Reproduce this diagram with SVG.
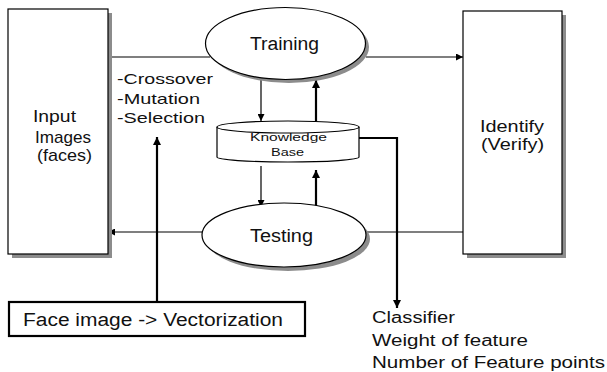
<svg xmlns="http://www.w3.org/2000/svg" width="607" height="372" viewBox="0 0 607 372">
  <defs>
    <marker id="ah" viewBox="0 0 8 8" refX="8" refY="4" markerWidth="7" markerHeight="7" markerUnits="userSpaceOnUse" orient="auto">
      <path d="M0,0 L8,4 L0,8 Z" fill="#000"/>
    </marker>
    <marker id="ahb" viewBox="0 0 8 8" refX="8" refY="4" markerWidth="8" markerHeight="8" markerUnits="userSpaceOnUse" orient="auto">
      <path d="M0,0 L8,4 L0,8 Z" fill="#000"/>
    </marker>
  </defs>
  <style>
    text { font-family: "Liberation Sans", Arial, sans-serif; fill: #111; }
    .big { font-size: 18px; }
    .lbl { font-size: 17px; }
    .pair { font-size: 16px; }
    .mid { font-size: 16px; }
    .sm { font-size: 15px; }
    .tiny { font-size: 10.5px; }
    .shadow { fill: #8c8c8c; stroke: none; }
    .node { fill: #fff; stroke: #000; stroke-width: 1.2; }
    .thin { stroke: #000; stroke-width: 1.2; fill: none; }
    .thick { stroke: #000; stroke-width: 2.2; fill: none; }
  </style>
  <rect width="607" height="372" fill="#fff"/>

  <!-- connectors -->
  <g id="connectors">
    <line class="thin" x1="108" y1="57" x2="210" y2="57"/>
    <line class="thin" x1="366" y1="57" x2="463" y2="57" marker-end="url(#ah)"/>
    <line class="thin" x1="261" y1="80" x2="261" y2="121" marker-end="url(#ah)"/>
    <line class="thick" x1="316" y1="121" x2="316" y2="80" marker-end="url(#ahb)"/>
    <line class="thin" x1="261" y1="166" x2="261" y2="207" marker-end="url(#ah)"/>
    <line class="thick" x1="316" y1="207" x2="316" y2="170" marker-end="url(#ahb)"/>
    <line class="thin" x1="202" y1="232" x2="108" y2="232" marker-end="url(#ah)"/>
    <line class="thin" x1="366" y1="232" x2="463" y2="232"/>
    <polyline class="thick" points="359,138 397,138 397,308" marker-end="url(#ahb)"/>
    <line class="thick" x1="157" y1="302" x2="157" y2="137" marker-end="url(#ahb)"/>
  </g>

  <!-- input images -->
  <g id="input">
    <rect class="shadow" x="12" y="13" width="100" height="245"/>
    <rect class="node" x="8" y="9" width="100" height="245"/>
    <text class="lbl" x="33" y="122" textLength="43" lengthAdjust="spacingAndGlyphs">Input</text>
    <text class="lbl" x="35" y="143" textLength="56" lengthAdjust="spacingAndGlyphs">Images</text>
    <text class="lbl" x="37" y="161" textLength="55" lengthAdjust="spacingAndGlyphs">(faces)</text>
  </g>

  <!-- identify -->
  <g id="identify">
    <rect class="shadow" x="467" y="15" width="99" height="243"/>
    <rect class="node" x="463" y="11" width="99" height="243"/>
    <text class="pair" x="480" y="132" textLength="64" lengthAdjust="spacingAndGlyphs">Identify</text>
    <text class="pair" x="481" y="150" textLength="63" lengthAdjust="spacingAndGlyphs">(Verify)</text>
  </g>

  <!-- training -->
  <g id="training">
    <ellipse class="shadow" cx="289" cy="47" rx="80" ry="36"/>
    <ellipse class="node" cx="285.5" cy="43.5" rx="80" ry="36"/>
    <text class="big" x="250" y="50" textLength="69" lengthAdjust="spacingAndGlyphs">Training</text>
  </g>

  <!-- operators -->
  <g id="operators">
    <text class="sm" x="117" y="84" textLength="96" lengthAdjust="spacingAndGlyphs">-Crossover</text>
    <text class="sm" x="117" y="104" textLength="83" lengthAdjust="spacingAndGlyphs">-Mutation</text>
    <text class="sm" x="117" y="123" textLength="88" lengthAdjust="spacingAndGlyphs">-Selection</text>
  </g>

  <!-- knowledge base -->
  <g id="knowledge">
    <path class="node" d="M217,127 L217,157 A71,5 0 0 0 359,157 L359,127"/>
    <ellipse class="node" cx="288" cy="127" rx="71" ry="6"/>
    <text class="tiny" x="250" y="141" textLength="77" lengthAdjust="spacingAndGlyphs">Knowledge</text>
    <text class="tiny" x="271" y="156" textLength="33" lengthAdjust="spacingAndGlyphs">Base</text>
  </g>

  <!-- testing -->
  <g id="testing">
    <ellipse class="shadow" cx="288" cy="239" rx="82" ry="32"/>
    <ellipse class="node" cx="284" cy="235" rx="82" ry="32"/>
    <text class="big" x="250" y="242" textLength="63" lengthAdjust="spacingAndGlyphs">Testing</text>
  </g>

  <!-- vectorization -->
  <g id="vectorization">
    <rect x="9" y="302" width="296" height="34" fill="#fff" stroke="#000" stroke-width="2.2"/>
    <text class="big" x="23" y="326" textLength="260" lengthAdjust="spacingAndGlyphs">Face image -&gt; Vectorization</text>
  </g>

  <!-- outputs -->
  <g id="outputs">
    <text class="mid" x="372" y="323" textLength="83" lengthAdjust="spacingAndGlyphs">Classifier</text>
    <text class="mid" x="372" y="346" textLength="156" lengthAdjust="spacingAndGlyphs">Weight of feature</text>
    <text class="mid" x="372" y="368" textLength="233" lengthAdjust="spacingAndGlyphs">Number of Feature points</text>
  </g>
</svg>
